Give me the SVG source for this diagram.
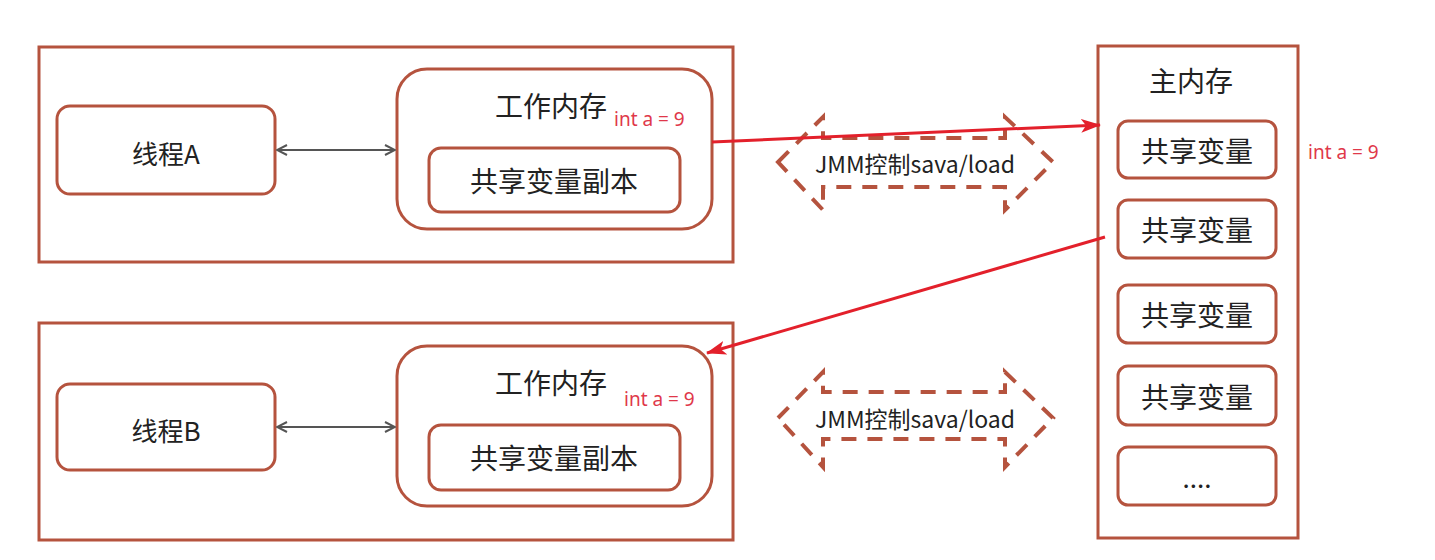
<svg xmlns="http://www.w3.org/2000/svg" width="1435" height="560" viewBox="0 0 1435 560">
<style>
.box{fill:#fff;stroke:#b5533e;stroke-width:3}
.t{font-family:"Noto Sans CJK SC","Noto Sans",sans-serif;fill:#222;text-anchor:middle;dominant-baseline:central}
.t22{font-size:26px}
.t24{font-size:28px}
.red{font-family:"Noto Sans","Liberation Sans",sans-serif;font-size:19px;fill:#e0384a}
.dash{fill:none;stroke:#b5533e;stroke-width:4;stroke-dasharray:15 11}
.gray{stroke:#555;stroke-width:2;fill:none}
.redl{stroke:#e3202b;stroke-width:3;fill:none}
</style>
<defs>
<marker id="ga" viewBox="0 0 12 12" refX="11" refY="6" markerWidth="12" markerHeight="12" markerUnits="userSpaceOnUse" orient="auto-start-reverse">
<path d="M1,1 L11,6 L1,11" fill="none" stroke="#555" stroke-width="2"/>
</marker>
<marker id="ra" viewBox="0 0 20 14" refX="19" refY="7" markerWidth="20" markerHeight="14" markerUnits="userSpaceOnUse" orient="auto">
<path d="M0,0 L20,7 L0,14 L5,7 Z" fill="#e3202b"/>
</marker>
</defs>
<rect width="1435" height="560" fill="#fff"/>

<g id="threadA-group">
<rect class="box" x="39" y="47" width="694" height="215"/>
</g>
<g id="threadA">
<rect class="box" x="57" y="106" width="218" height="88" rx="13"/>
<text class="t t22" x="166" y="152">线程A</text>
</g>
<g id="workA">
<rect class="box" x="397" y="69" width="315" height="160" rx="30"/>
<text class="t t24" x="551" y="105">工作内存</text>
<text class="red" x="614" y="126">int a = 9</text>
</g>
<g id="copyA">
<rect class="box" x="429" y="148" width="251" height="64" rx="12"/>
<text class="t t24" x="554" y="180">共享变量副本</text>
</g>

<g id="threadB-group">
<rect class="box" x="39" y="323" width="694" height="217"/>
</g>
<g id="threadB">
<rect class="box" x="57" y="384" width="218" height="86" rx="13"/>
<text class="t t22" x="166" y="429">线程B</text>
</g>
<g id="workB">
<rect class="box" x="397" y="346" width="315" height="160" rx="30"/>
<text class="t t24" x="551" y="382">工作内存</text>
<text class="red" x="624" y="406">int a = 9</text>
</g>
<g id="copyB">
<rect class="box" x="429" y="425" width="251" height="65" rx="12"/>
<text class="t t24" x="554" y="457">共享变量副本</text>
</g>

<g id="mainMem">
<rect class="box" x="1098" y="46" width="200" height="492"/>
<text class="t t24" x="1191" y="80">主内存</text>
<text class="red" x="1308" y="159">int a = 9</text>
</g>
<g id="var1"><rect class="box" x="1118" y="121" width="158" height="57" rx="10"/><text class="t t24" x="1197" y="150">共享变量</text></g>
<g id="var2"><rect class="box" x="1118" y="200" width="158" height="58" rx="10"/><text class="t t24" x="1197" y="229">共享变量</text></g>
<g id="var3"><rect class="box" x="1118" y="285" width="158" height="58" rx="10"/><text class="t t24" x="1197" y="314">共享变量</text></g>
<g id="var4"><rect class="box" x="1118" y="366" width="158" height="59" rx="10"/><text class="t t24" x="1197" y="396">共享变量</text></g>
<g id="var5"><rect class="box" x="1118" y="447" width="158" height="58" rx="10"/><text class="t t22" x="1197" y="476">....</text></g>

<g id="jmm1">
<path class="dash" d="M778,162 L823,117 L823,138 L1005,138 L1005,117 L1053,162 L1005,210 L1005,187 L823,187 L823,210 Z"/>
<text class="t" x="915" y="163" style="font-size:23px">JMM控制sava/load</text>
</g>
<g id="jmm2">
<path class="dash" d="M778,418 L823,372 L823,392 L1005,392 L1005,372 L1053,418 L1005,467 L1005,439 L823,439 L823,467 Z"/>
<text class="t" x="915" y="418" style="font-size:23px">JMM控制sava/load</text>
</g>

<g id="connectors">
<line class="gray" x1="277" y1="150" x2="395" y2="150" marker-start="url(#ga)" marker-end="url(#ga)"/>
<line class="gray" x1="277" y1="427" x2="395" y2="427" marker-start="url(#ga)" marker-end="url(#ga)"/>
<line class="redl" x1="712" y1="142" x2="1100" y2="125" marker-end="url(#ra)"/>
<line class="redl" x1="1105" y1="237" x2="707" y2="353" marker-end="url(#ra)"/>
</g>
</svg>
